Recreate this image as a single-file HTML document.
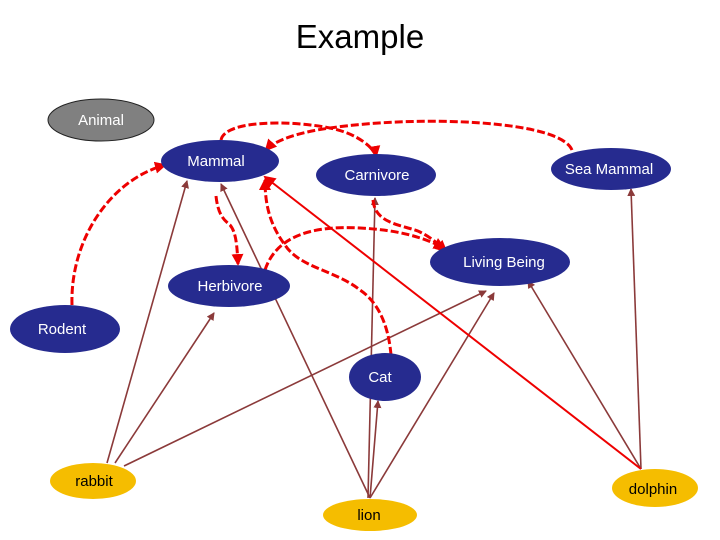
<!DOCTYPE html>
<html><head><meta charset="utf-8"><style>
html,body{margin:0;padding:0;background:#fff;width:720px;height:540px;overflow:hidden}
</style></head><body>
<svg width="720" height="540" viewBox="0 0 720 540" xmlns="http://www.w3.org/2000/svg" font-family="Liberation Sans, Arial, sans-serif">
<defs>
<marker id="ab" markerWidth="8" markerHeight="8" refX="7" refY="4" orient="auto" markerUnits="userSpaceOnUse"><path d="M0,0 L8,4 L0,8 z" fill="#8b3a3a"/></marker>
<marker id="ar" markerWidth="12" markerHeight="12" refX="10" refY="6" orient="auto" markerUnits="userSpaceOnUse"><path d="M0,0 L12,6 L0,12 z" fill="#e00"/></marker>
</defs>
<text x="360" y="48" font-size="33" text-anchor="middle" fill="#000">Example</text>

<g stroke="#8b3a3a" stroke-width="1.6" fill="none" marker-end="url(#ab)">
<line x1="107" y1="463" x2="187" y2="181"/>
<line x1="115" y1="463" x2="214" y2="313"/>
<line x1="124" y1="466" x2="486" y2="291"/>
<line x1="370" y1="498" x2="221" y2="184"/>
<line x1="368" y1="498" x2="375" y2="198"/>
<line x1="370" y1="498" x2="378" y2="401"/>
<line x1="370" y1="498" x2="494" y2="293"/>
<line x1="641" y1="469" x2="528" y2="281"/>
<line x1="641" y1="469" x2="631" y2="189"/>
</g>
<line x1="641" y1="469" x2="265" y2="177" stroke="#e00" stroke-width="2" marker-end="url(#ar)"/>
<g stroke="#e00" stroke-width="3" stroke-dasharray="8,3" fill="none" marker-end="url(#ar)">
<path d="M221,140 C225,120 290,120 330,128 C360,134 375,150 376,156"/>
<path d="M572,150 C560,120 420,115 330,128 C300,132 275,140 266,150"/>
<path d="M72,305 C70,240 110,180 165,165"/>
<path d="M216,196 C218,215 224,220 230,225 C236,232 237,245 238,264"/>
<path d="M373,200 C375,225 405,225 420,232 C432,238 438,244 446,251"/>
<path d="M265,270 C275,240 305,225 360,228 C400,230 425,238 444,248"/>
<path d="M391,355 C388,320 375,300 360,290 C335,270 300,268 285,245 C270,225 265,205 265,180"/>
</g>

<g stroke="#222" stroke-width="1">
<ellipse cx="101" cy="120" rx="53" ry="21" fill="#808080"/>
</g>
<g fill="#262b8f">
<ellipse cx="220" cy="161" rx="59" ry="21"/>
<ellipse cx="376" cy="175" rx="60" ry="21"/>
<ellipse cx="611" cy="169" rx="60" ry="21"/>
<ellipse cx="500" cy="262" rx="70" ry="24"/>
<ellipse cx="229" cy="286" rx="61" ry="21"/>
<ellipse cx="65" cy="329" rx="55" ry="24"/>
<ellipse cx="385" cy="377" rx="36" ry="24"/>
</g>
<g fill="#f5bd00">
<ellipse cx="93" cy="481" rx="43" ry="18"/>
<ellipse cx="370" cy="515" rx="47" ry="16"/>
<ellipse cx="655" cy="488" rx="43" ry="19"/>
</g>
<g font-size="15" fill="#fff" text-anchor="middle">
<text x="101" y="125">Animal</text>
<text x="216" y="166">Mammal</text>
<text x="377" y="180">Carnivore</text>
<text x="609" y="174">Sea Mammal</text>
<text x="504" y="267">Living Being</text>
<text x="230" y="291">Herbivore</text>
<text x="62" y="334">Rodent</text>
<text x="380" y="382">Cat</text>
</g>
<g font-size="15" fill="#000" text-anchor="middle">
<text x="94" y="486">rabbit</text>
<text x="369" y="520">lion</text>
<text x="653" y="494">dolphin</text>
</g>
</svg>
</body></html>
